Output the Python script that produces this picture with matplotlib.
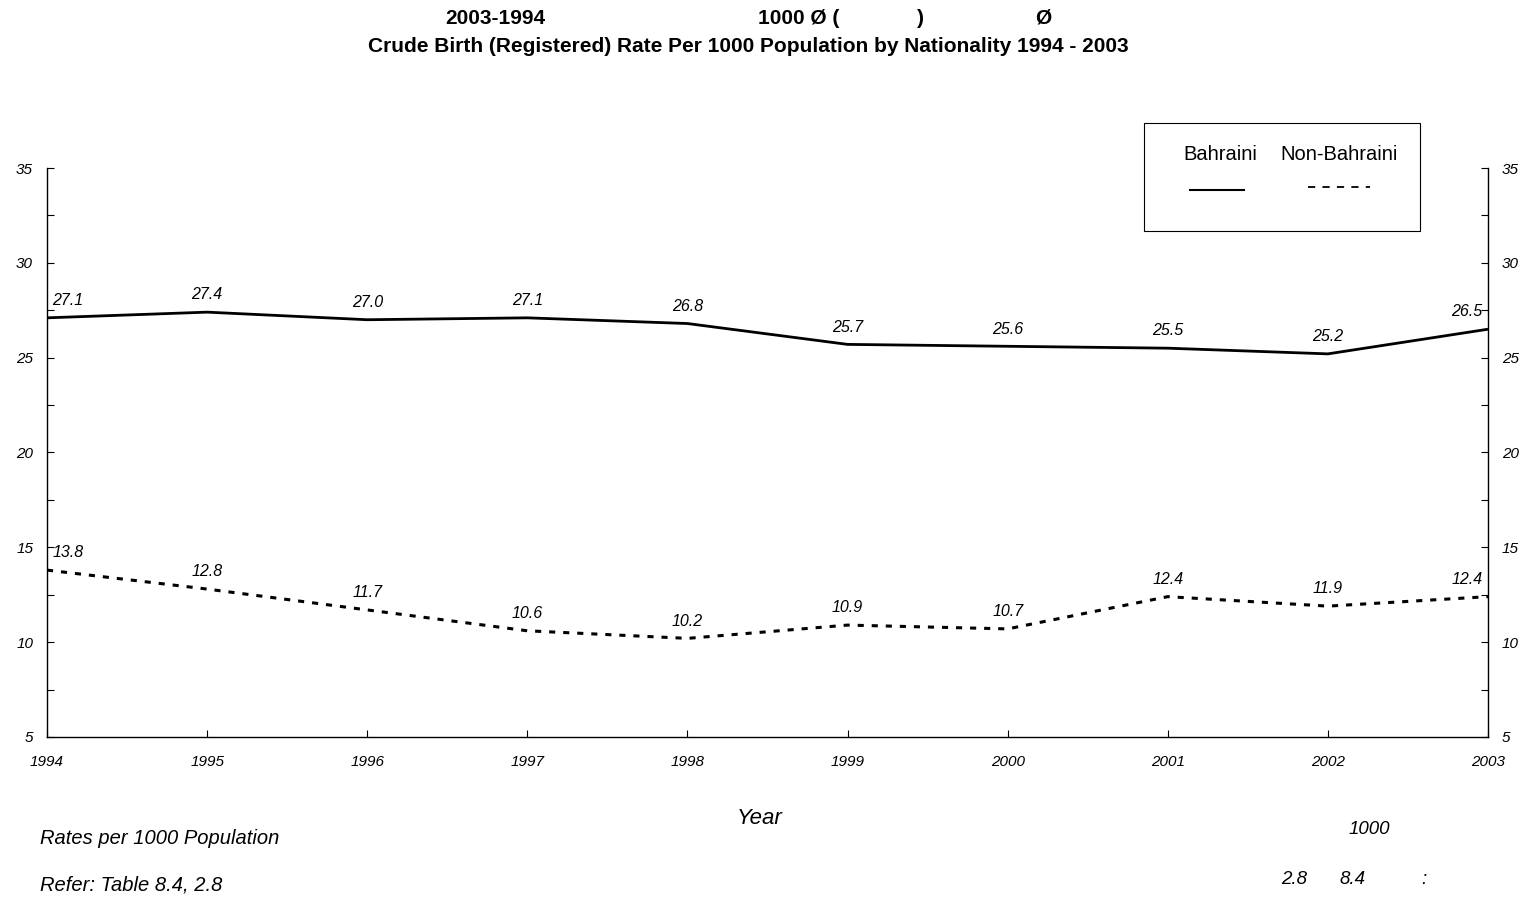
import matplotlib
matplotlib.use("Agg")
import matplotlib.pyplot as plt
from matplotlib.lines import Line2D
from matplotlib.patches import Rectangle
from matplotlib.ticker import MultipleLocator

plt.rcParams['font.family'] = ['Liberation Sans', 'DejaVu Sans']

years = [1994, 1995, 1996, 1997, 1998, 1999, 2000, 2001, 2002, 2003]
bahraini = [27.1, 27.4, 27.0, 27.1, 26.8, 25.7, 25.6, 25.5, 25.2, 26.5]
non_bahraini = [13.8, 12.8, 11.7, 10.6, 10.2, 10.9, 10.7, 12.4, 11.9, 12.4]
series_names = ["Bahraini", "Non-Bahraini"]
yticks = [5, 10, 15, 20, 25, 30, 35]

W, H = 1525, 899
fig = plt.figure(figsize=(W / 100, H / 100), dpi=100)
ax = fig.add_axes([47 / W, 1 - 737 / H, (1488 - 47) / W, (737 - 168) / H])

solid_kw = dict(color='black', lw=2.0, solid_capstyle='butt')
dash_kw = dict(color='black', lw=2.2, linestyle=(0, (2.0, 2.6)))

ax.plot(years, bahraini, **solid_kw)
ax.plot(years, non_bahraini, **dash_kw)


def label_series(vals):
    for i, (x, y) in enumerate(zip(years, vals)):
        ha, dx = 'center', 0
        if i == 0:
            ha, dx = 'left', 4
        elif i == len(years) - 1:
            ha, dx = 'right', -4
        ax.annotate(f"{y:.1f}", (x, y), xytext=(dx, 7), textcoords='offset points',
                    ha=ha, va='bottom', fontsize=11.5, style='italic')


label_series(bahraini)
label_series(non_bahraini)

ax.set_xlim(1994, 2003)
ax.set_ylim(5, 35)
ax.set_xticks(years)
ax.set_xticklabels([str(y) for y in years], style='italic', fontsize=11)
ax.set_yticks(yticks)
ax.set_yticklabels([str(t) for t in yticks], style='italic', fontsize=11)
ax.yaxis.set_minor_locator(MultipleLocator(2.5))
ax.spines['top'].set_visible(False)
for s in ['left', 'right', 'bottom']:
    ax.spines[s].set_linewidth(1.0)
ax.tick_params(axis='y', which='both', direction='in', left=True, right=True,
               labelleft=True, labelright=True, length=5, width=0.8)
ax.tick_params(axis='y', which='major', pad=10)
ax.tick_params(axis='x', direction='in', length=5, width=0.8, pad=13)
for lab in ax.get_yticklabels():
    pass

# Titles
tkw = dict(ha='center', va='center', fontsize=15, fontweight='bold')
fig.text(495 / W, 1 - 18 / H, "2003-1994", **tkw)
fig.text(758 / W, 1 - 18 / H, "1000 Ø (", ha='left', va='center', fontsize=15, fontweight='bold')
fig.text(920 / W, 1 - 18 / H, ")", **tkw)
fig.text(1043 / W, 1 - 18 / H, "Ø", **tkw)
fig.text(748 / W, 1 - 46 / H,
         "Crude Birth (Registered) Rate Per 1000 Population by Nationality 1994 - 2003", **tkw)

# Legend box
fig.patches.append(Rectangle((1144 / W, 1 - 231 / H), (1420 - 1144) / W, (231 - 123) / H,
                             transform=fig.transFigure, fill=False, edgecolor='black', lw=0.8))
fig.text(1220 / W, 1 - 154 / H, series_names[0], ha='center', va='center', fontsize=14.5)
fig.text(1339 / W, 1 - 154 / H, series_names[1], ha='center', va='center', fontsize=14.5)
fig.add_artist(Line2D([1190 / W, 1244 / W], [1 - 190 / H, 1 - 190 / H],
                      transform=fig.transFigure, color='black', lw=1.5))
fig.add_artist(Line2D([1308 / W, 1370 / W], [1 - 187 / H, 1 - 187 / H],
                      transform=fig.transFigure, color='black', lw=1.3,
                      linestyle=(0, (4, 4))))

# Axis label and notes
fig.text(760 / W, 1 - 818 / H, "Year", ha='center', va='center', fontsize=16, style='italic')
fig.text(40 / W, 1 - 839 / H, "Rates per 1000 Population", ha='left', va='center',
         fontsize=14.5, style='italic')
fig.text(40 / W, 1 - 885 / H, "Refer: Table 8.4, 2.8", ha='left', va='center',
         fontsize=14.5, style='italic')
fig.text(1369 / W, 1 - 830 / H, "1000", ha='center', va='center', fontsize=13.5, style='italic')
fig.text(1294 / W, 1 - 880 / H, "2.8", ha='center', va='center', fontsize=13.5, style='italic')
fig.text(1352 / W, 1 - 880 / H, "8.4", ha='center', va='center', fontsize=13.5, style='italic')
fig.text(1424 / W, 1 - 880 / H, ":", ha='center', va='center', fontsize=13.5, style='italic')

fig.savefig("out.png", dpi=100, facecolor='white')
